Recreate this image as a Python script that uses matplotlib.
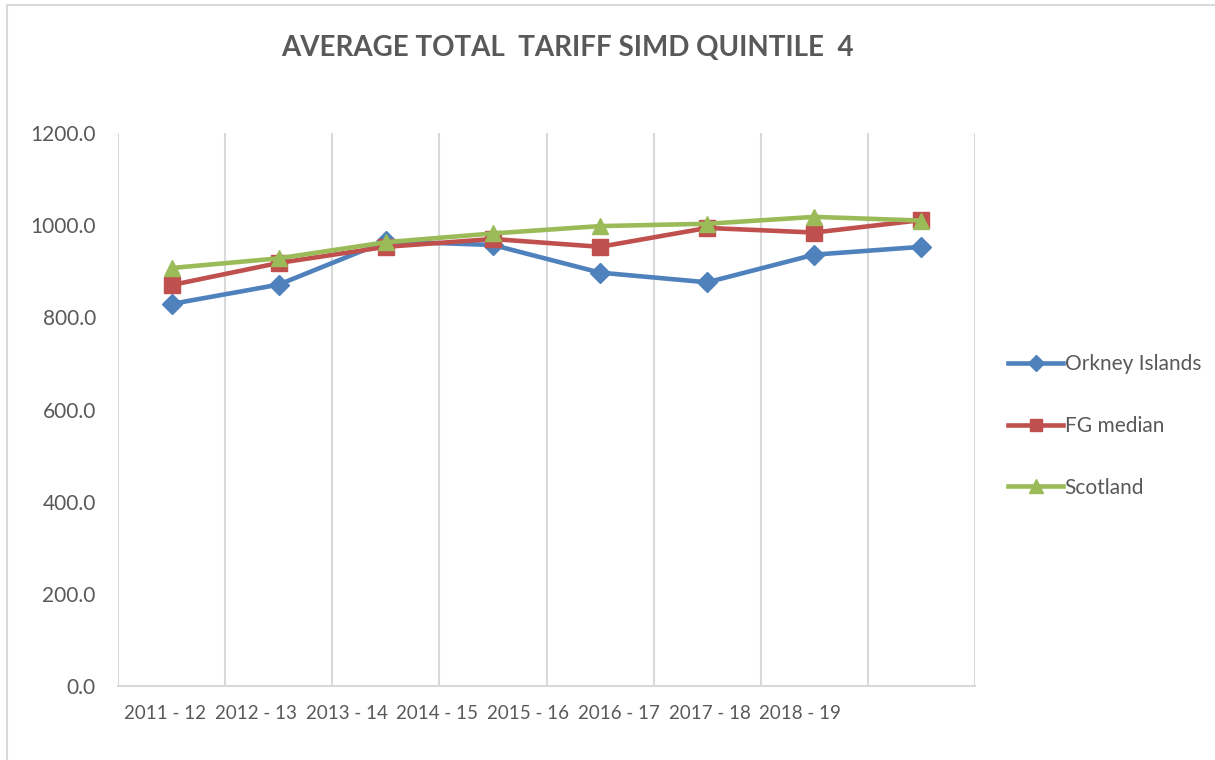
import numpy as np
import matplotlib
matplotlib.use('Agg')
import matplotlib.pyplot as plt
from matplotlib.lines import Line2D

plt.rcParams['font.family'] = ['Lato', 'DejaVu Sans']

years = ['2011 - 12', '2012 - 13', '2013 - 14', '2014 - 15',
         '2015 - 16', '2016 - 17', '2017 - 18', '2018 - 19']

orkney = [829, 871, 965, 957, 897, 876, 936, 953]
fg_median = [870, 918, 953, 970, 953, 994, 984, 1011]
scotland = [907, 928, 963, 982, 998, 1003, 1018, 1010]

grey = '#595959'
fig = plt.figure(figsize=(12.15, 7.6), dpi=100)
ax = fig.add_axes([118/1215, 74/760, 857/1215, 553/760])

x = np.arange(len(orkney))
ax.plot(x, orkney, color='#4F81BD', lw=3.3, marker='D', ms=10, label='Orkney Islands')
ax.plot(x, fg_median, color='#C0504D', lw=3.3, marker='s', ms=11, label='FG median')
ax.plot(x, scotland, color='#9BBB59', lw=3.3, marker='^', ms=12, label='Scotland')

ax.set_xlim(-0.5, 7.5)
ax.set_ylim(0, 1200)
ax.set_yticks(np.arange(0, 1201, 200))
ax.set_yticklabels(['%.1f' % v for v in np.arange(0, 1201, 200)])

# vertical grid at category boundaries
for b in np.arange(-0.5, 8, 1):
    ax.axvline(b, color='#d9d9d9', lw=1.5, zorder=0)

# Excel squeezed the category labels, keep them where they sit in the picture
ax.set_xticks(np.arange(len(years)) * 0.847 - 0.06)
ax.set_xticklabels(years)

for s in ['top', 'left', 'right']:
    ax.spines[s].set_visible(False)
ax.spines['bottom'].set_color('#d9d9d9')
ax.spines['bottom'].set_linewidth(1.5)
ax.tick_params(axis='both', length=0, colors=grey)
ax.tick_params(axis='x', pad=14, labelsize=13.5)
ax.tick_params(axis='y', pad=16, labelsize=15)

fig.text(567/1215, 1 - 48/760, 'AVERAGE TOTAL  TARIFF SIMD QUINTILE  4',
         ha='center', va='center', fontsize=20, fontweight='bold', color=grey)

leg = ax.legend(loc='center left', bbox_to_anchor=(998/1215, 1 - 426/760),
                bbox_transform=fig.transFigure, frameon=False, fontsize=15,
                labelspacing=2.0, handlelength=2.6, handletextpad=0.1,
                borderpad=0, markerscale=0.85)
for t in leg.get_texts():
    t.set_color(grey)

# outer chart border
fig.add_artist(Line2D([7/1215, 7/1215], [0, 1 - 5/760], color='#d9d9d9', lw=1.5))
fig.add_artist(Line2D([7/1215, 1], [1 - 5/760, 1 - 5/760], color='#d9d9d9', lw=1.5))

fig.savefig('out.png', dpi=100)
